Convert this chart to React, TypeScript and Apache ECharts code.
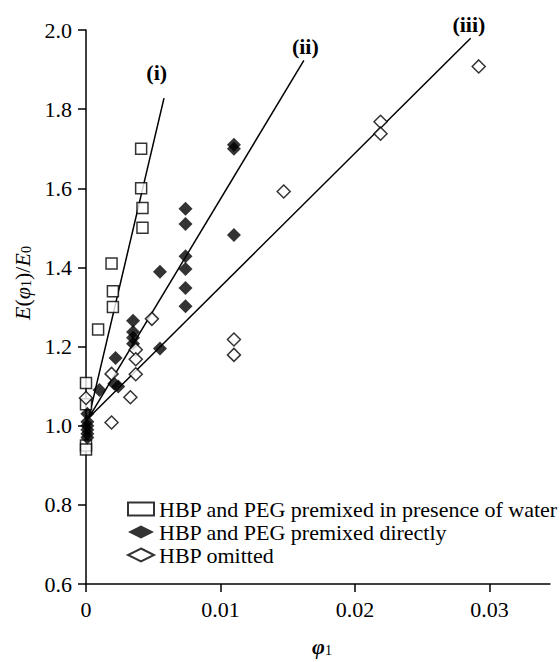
import React, { useEffect, useRef } from 'react';
import * as echarts from 'echarts';

const FONT = '"Liberation Serif", "Times New Roman", serif';

const seriesNames = [
  'HBP and PEG premixed in presence of water',
  'HBP and PEG premixed directly',
  'HBP omitted',
];

const premixedWater: number[][] = [
  [0.0041, 1.70], [0.0041, 1.60], [0.0042, 1.55], [0.0042, 1.50],
  [0.0019, 1.41], [0.0020, 1.34], [0.0020, 1.30], [0.0009, 1.243],
  [0.0000, 1.108], [0.0000, 1.054], [0.0000, 0.95], [0.0000, 0.94],
];

const premixedDirect: number[][] = [
  [0.0110, 1.71], [0.0110, 1.70], [0.0074, 1.548], [0.0074, 1.51],
  [0.0110, 1.482], [0.0055, 1.389], [0.0074, 1.428], [0.0074, 1.396],
  [0.0074, 1.348], [0.0074, 1.302], [0.0035, 1.265], [0.0035, 1.237],
  [0.0035, 1.222], [0.0035, 1.207], [0.0055, 1.195], [0.0022, 1.171],
  [0.0021, 1.106], [0.0024, 1.099], [0.0010, 1.09],
  [0.0001, 1.03], [0.0001, 1.01], [0.0001, 1.0], [0.0001, 0.99],
  [0.0001, 0.98], [0.0001, 0.97],
];

const hbpOmitted: number[][] = [
  [0.0292, 1.908], [0.0219, 1.768], [0.0219, 1.738], [0.0147, 1.592],
  [0.0110, 1.218], [0.0110, 1.179], [0.0049, 1.27], [0.0037, 1.192],
  [0.0037, 1.168], [0.0037, 1.13], [0.0033, 1.072], [0.0019, 1.131],
  [0.0019, 1.008], [0.0000, 1.07],
];

const fitLines: number[][][] = [
  [[0.0002, 1.02], [0.0058, 1.828]],
  [[0.0002, 1.02], [0.0162, 1.923]],
  [[0.0002, 1.02], [0.0286, 1.979]],
];

const fitLabels = ['(i)', '(ii)', '(iii)'];
const fitLabelCoords: number[][] = [
  [0.00526, 1.892],
  [0.01631, 1.958],
  [0.02847, 2.0],
];
const fitLabelOffsets: number[][] = [
  [0, 0],
  [0, 0],
  [0, -6],
];

const xTicks = [0, 0.01, 0.02, 0.03];
const yTicks = [0.6, 0.8, 1.0, 1.2, 1.4, 1.6, 1.8, 2.0];

export default function App() {
  const ref = useRef<HTMLDivElement>(null);
  useEffect(() => {
    document.body.style.margin = '0';
    const chart = echarts.init(ref.current!, null, { renderer: 'svg' });
    const axisCommon = {
      axisLine: { show: true, lineStyle: { color: '#000', width: 1.5 } },
      axisTick: { show: true, length: 8, lineStyle: { color: '#000', width: 1.5 } },
      splitLine: { show: false },
    };
    const subStyle = { fontFamily: FONT, fontSize: 14, color: '#000', lineHeight: 8, verticalAlign: 'bottom' };
    chart.setOption({
      animation: false,
      backgroundColor: '#fff',
      textStyle: { fontFamily: FONT, color: '#000' },
      grid: { left: 86, right: 10, top: 30, bottom: 71, containLabel: false },
      legend: {
        orient: 'vertical',
        left: 127,
        top: 498,
        itemWidth: 26,
        itemHeight: 13,
        itemGap: 1,
        padding: 0,
        data: seriesNames,
        textStyle: { fontFamily: FONT, fontSize: 22, color: '#000', lineHeight: 21 },
      },
      xAxis: {
        type: 'value',
        min: 0,
        max: 0.0345,
        ...axisCommon,
        axisTick: { ...axisCommon.axisTick, customValues: xTicks },
        axisLabel: {
          customValues: xTicks,
          margin: 14,
          fontFamily: FONT,
          fontSize: 22,
          color: '#000',
          formatter: (v: number) => (v === 0 ? '0' : String(+v.toFixed(2))),
        },
        name: '{b|φ}{s|1}',
        nameLocation: 'middle',
        nameGap: 51,
        nameTextStyle: {
          color: '#000',
          fontFamily: FONT,
          padding: [0, 0, 0, 8],
          rich: {
            b: { fontFamily: FONT, fontSize: 22, fontStyle: 'italic', fontWeight: 'bold', color: '#000', lineHeight: 22 },
            s: subStyle,
          },
        },
      },
      yAxis: {
        type: 'value',
        min: 0.6,
        max: 2.0,
        ...axisCommon,
        axisTick: { ...axisCommon.axisTick, customValues: yTicks },
        axisLabel: {
          customValues: yTicks,
          margin: 14,
          fontFamily: FONT,
          fontSize: 22,
          color: '#000',
          formatter: (v: number) => v.toFixed(1),
        },
        name: '{i|E}{n|(}{i|φ}{s|1}{n|)/}{i|E}{s|0}',
        nameLocation: 'middle',
        nameRotate: 90,
        nameGap: 52,
        nameTextStyle: {
          color: '#000',
          fontFamily: FONT,
          padding: [0, 0, 0, 48],
          rich: {
            i: { fontFamily: FONT, fontSize: 22, fontStyle: 'italic', color: '#000', lineHeight: 22 },
            n: { fontFamily: FONT, fontSize: 22, color: '#000', lineHeight: 22 },
            s: subStyle,
          },
        },
      },
      series: [
        ...fitLines.map((d, i) => ({
          type: 'line',
          data: d,
          symbol: 'none',
          silent: true,
          z: 1,
          lineStyle: { color: '#000', width: 1.5 },
          markPoint: {
            symbol: 'circle',
            symbolSize: 1,
            itemStyle: { color: 'transparent' },
            data: [{ coord: fitLabelCoords[i] }],
            label: {
              show: true,
              position: 'inside',
              offset: fitLabelOffsets[i],
              formatter: fitLabels[i],
              fontFamily: FONT,
              fontSize: 22,
              fontWeight: 'bold',
              color: '#000',
            },
          },
        })),
        {
          name: seriesNames[0],
          type: 'scatter',
          data: premixedWater,
          symbol: 'rect',
          symbolSize: 11,
          z: 3,
          itemStyle: { color: '#fff', borderColor: '#000', borderWidth: 1.5 },
        },
        {
          name: seriesNames[1],
          type: 'scatter',
          data: premixedDirect,
          symbol: 'diamond',
          symbolSize: 14,
          z: 4,
          itemStyle: { color: '#000', borderColor: '#000', borderWidth: 0 },
        },
        {
          name: seriesNames[2],
          type: 'scatter',
          data: hbpOmitted,
          symbol: 'diamond',
          symbolSize: 13,
          z: 5,
          itemStyle: { color: '#fff', borderColor: '#000', borderWidth: 1.5 },
        },
      ],
    });
    return () => chart.dispose();
  }, []);
  return <div ref={ref} style={{ width: 560, height: 662 }} />;
}
